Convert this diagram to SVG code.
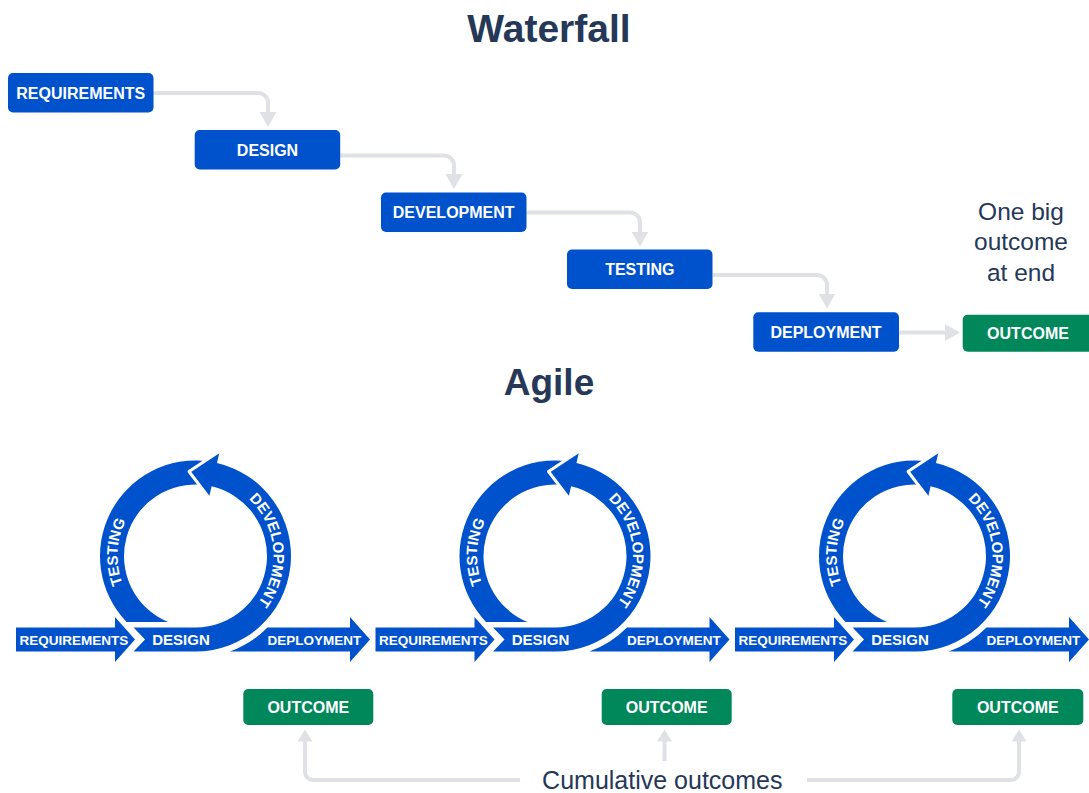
<svg xmlns="http://www.w3.org/2000/svg" width="1089" height="793" viewBox="0 0 1089 793">
<style>
.box{fill:#0052CC}
.out{fill:#00875A}
.blue{fill:#0052CC}
.bt{font-family:"Liberation Sans",Arial,sans-serif;font-weight:bold;font-size:16px;fill:#FFFFFF;text-anchor:middle}
.at{font-family:"Liberation Sans",Arial,sans-serif;font-weight:bold;font-size:13.5px;fill:#FFFFFF;text-anchor:middle}
.rt{font-family:"Liberation Sans",Arial,sans-serif;font-weight:bold;font-size:15px;fill:#FFFFFF;text-anchor:middle}
.title{font-family:"Liberation Sans",Arial,sans-serif;font-weight:bold;font-size:39px;fill:#253858;text-anchor:middle}
.note{font-family:"Liberation Sans",Arial,sans-serif;font-size:24.5px;fill:#253858;text-anchor:middle}
.conn{fill:none;stroke:#DFE1E6;stroke-width:4}
.c1{marker-end:url(#ah)}
.c2{marker-end:url(#ah2)}
.gap{fill:none;stroke:#FFFFFF;stroke-width:3;stroke-linejoin:round}
</style>
<defs>
<marker id="ah" markerUnits="userSpaceOnUse" markerWidth="16" markerHeight="17" refX="11" refY="8.5" orient="auto"><path d="M0,0 L15,8.5 L0,17 Z" fill="#DFE1E6"/></marker>
<marker id="ah2" markerUnits="userSpaceOnUse" markerWidth="12" markerHeight="15" refX="8" refY="7.5" orient="auto"><path d="M0,0 L12,7.5 L0,15 Z" fill="#DFE1E6"/></marker>
<path id="tpDev" d="M240.24,492.1 A78,78 0 0 1 250.65,611.15" fill="none"/>
<path id="tpTest" d="M127.95,595 A78,78 0 0 1 132.4,510.15" fill="none"/>
</defs>

<text class="title" x="549" y="42">Waterfall</text>
<text class="title" x="549" y="395" style="font-size:37px">Agile</text>

<g id="connectors">
<path class="conn c1" d="M153,93 H258 A10,10 0 0 1 268,103 V123"/>
<path class="conn c1" d="M340,155.5 H444 A10,10 0 0 1 454,165.5 V185"/>
<path class="conn c1" d="M526.5,212.5 H630 A10,10 0 0 1 640,222.5 V242.5"/>
<path class="conn c1" d="M712.5,275 H817 A10,10 0 0 1 827,285 V304.5"/>
<path class="conn c1" d="M899,332.5 H956"/>
<path class="conn c2" d="M520,780 H313 A8,8 0 0 1 305,772 V733.5"/>
<path class="conn c2" d="M664.5,761 V733.5"/>
<path class="conn c2" d="M807,780 H1011 A8,8 0 0 0 1019,772 V733.5"/>
</g>

<g id="wf-requirements"><rect class="box" x="8" y="73" width="145.5" height="39.5" rx="5"/><text class="bt" x="80.7" y="98.5">REQUIREMENTS</text></g>
<g id="wf-design"><rect class="box" x="194.7" y="130" width="145.5" height="39.5" rx="5"/><text class="bt" x="267.5" y="155.5">DESIGN</text></g>
<g id="wf-development"><rect class="box" x="381" y="192.5" width="145.5" height="39.5" rx="5"/><text class="bt" x="453.7" y="218">DEVELOPMENT</text></g>
<g id="wf-testing"><rect class="box" x="567" y="249.5" width="145.5" height="39.5" rx="5"/><text class="bt" x="639.8" y="275">TESTING</text></g>
<g id="wf-deployment"><rect class="box" x="753.3" y="312.3" width="145.7" height="39.4" rx="5"/><text class="bt" x="826" y="337.8">DEPLOYMENT</text></g>
<g id="wf-outcome"><rect class="out" x="962.7" y="314.7" width="130.6" height="37" rx="5"/><text class="bt" x="1028" y="339">OUTCOME</text></g>

<g id="wf-note">
<text class="note" x="1021" y="219.5">One big</text>
<text class="note" x="1021" y="250">outcome</text>
<text class="note" x="1021" y="280.5">at end</text>
</g>

<g id="loop1">
<path class="blue" d="M16,627.5 H115 V617 L135,639.5 L115,662 V651.5 H16 Z"/>
<path class="blue" d="M208.79,461.43 A95.5,95.5 0 0 0 126.48,622 L168,622 A71.5,71.5 0 0 1 205.45,485.2 Z"/>
<path class="blue" d="M133.6,627.5 L145,639.5 L133.6,651.5 H195.5 A95.5,95.5 0 0 0 216.98,462.95 L219.68,451.26 L189,471.5 L209,497.54 L211.58,486.33 A71.5,71.5 0 0 1 195.5,627.5 Z"/>
<path class="gap" d="M219.68,451.26 L189,471.5 L209,497.54"/>
<path class="blue" d="M267.5,627.5 H350 V617 L370,639.5 L350,662 V651.5 H229.9 A101.5,101.5 0 0 0 267.5,627.5 Z"/>
<text class="at" x="74" y="644.5">REQUIREMENTS</text>
<text class="rt" x="181" y="644.5">DESIGN</text>
<text class="at" x="314.5" y="644.5">DEPLOYMENT</text>
<text class="rt"><textPath href="#tpTest" startOffset="50%">TESTING</textPath></text>
<text class="rt"><textPath href="#tpDev" startOffset="50%">DEVELOPMENT</textPath></text>
</g>

<g id="loop2" transform="translate(359.5,0)">
<path class="blue" d="M16,627.5 H115 V617 L135,639.5 L115,662 V651.5 H16 Z"/>
<path class="blue" d="M208.79,461.43 A95.5,95.5 0 0 0 126.48,622 L168,622 A71.5,71.5 0 0 1 205.45,485.2 Z"/>
<path class="blue" d="M133.6,627.5 L145,639.5 L133.6,651.5 H195.5 A95.5,95.5 0 0 0 216.98,462.95 L219.68,451.26 L189,471.5 L209,497.54 L211.58,486.33 A71.5,71.5 0 0 1 195.5,627.5 Z"/>
<path class="gap" d="M219.68,451.26 L189,471.5 L209,497.54"/>
<path class="blue" d="M267.5,627.5 H350 V617 L370,639.5 L350,662 V651.5 H229.9 A101.5,101.5 0 0 0 267.5,627.5 Z"/>
<text class="at" x="74" y="644.5">REQUIREMENTS</text>
<text class="rt" x="181" y="644.5">DESIGN</text>
<text class="at" x="314.5" y="644.5">DEPLOYMENT</text>
<text class="rt"><textPath href="#tpTest" startOffset="50%">TESTING</textPath></text>
<text class="rt"><textPath href="#tpDev" startOffset="50%">DEVELOPMENT</textPath></text>
</g>

<g id="loop3" transform="translate(719,0)">
<path class="blue" d="M16,627.5 H115 V617 L135,639.5 L115,662 V651.5 H16 Z"/>
<path class="blue" d="M208.79,461.43 A95.5,95.5 0 0 0 126.48,622 L168,622 A71.5,71.5 0 0 1 205.45,485.2 Z"/>
<path class="blue" d="M133.6,627.5 L145,639.5 L133.6,651.5 H195.5 A95.5,95.5 0 0 0 216.98,462.95 L219.68,451.26 L189,471.5 L209,497.54 L211.58,486.33 A71.5,71.5 0 0 1 195.5,627.5 Z"/>
<path class="gap" d="M219.68,451.26 L189,471.5 L209,497.54"/>
<path class="blue" d="M267.5,627.5 H350 V617 L370,639.5 L350,662 V651.5 H229.9 A101.5,101.5 0 0 0 267.5,627.5 Z"/>
<text class="at" x="74" y="644.5">REQUIREMENTS</text>
<text class="rt" x="181" y="644.5">DESIGN</text>
<text class="at" x="314.5" y="644.5">DEPLOYMENT</text>
<text class="rt"><textPath href="#tpTest" startOffset="50%">TESTING</textPath></text>
<text class="rt"><textPath href="#tpDev" startOffset="50%">DEVELOPMENT</textPath></text>
</g>

<g id="ag-outcome1"><rect class="out" x="243.3" y="689" width="130" height="36" rx="5"/><text class="bt" x="308.3" y="712.8">OUTCOME</text></g>
<g id="ag-outcome2"><rect class="out" x="601.7" y="689" width="130" height="36" rx="5"/><text class="bt" x="666.7" y="712.8">OUTCOME</text></g>
<g id="ag-outcome3"><rect class="out" x="952.3" y="689" width="131" height="36" rx="5"/><text class="bt" x="1017.8" y="712.8">OUTCOME</text></g>

<g id="ag-note"><text class="note" x="662.3" y="789" style="font-size:25px">Cumulative outcomes</text></g>
</svg>
